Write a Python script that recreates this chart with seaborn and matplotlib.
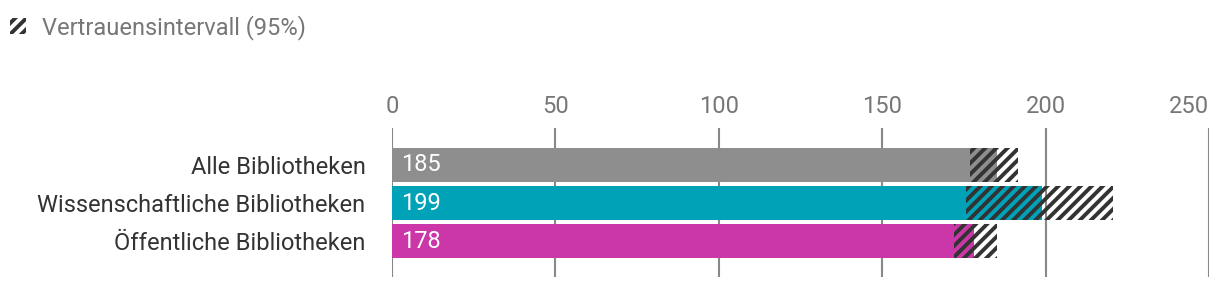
import matplotlib
matplotlib.use("Agg")
import matplotlib.pyplot as plt
from matplotlib.patches import Patch
import seaborn as sns
import numpy as np
import pandas as pd

categories = ["Alle Bibliotheken", "Wissenschaftliche Bibliotheken", "Öffentliche Bibliotheken"]
values = [185, 199, 178]
ci_low = [177, 175.5, 172]
ci_high = [191.5, 220.5, 185]
bar_colors = ["#8e8e8e", "#00a2b8", "#cb37a8"]
x_ticks = [0, 50, 100, 150, 200, 250]
legend_label = "Vertrauensintervall (95%)"

sns.set_theme(style="white")
plt.rcParams["font.family"] = ["Roboto", "DejaVu Sans"]
plt.rcParams["hatch.linewidth"] = 2.8

fig = plt.figure(figsize=(12.2, 2.9), dpi=100)
ax = fig.add_axes([392 / 1220, (290 - 277.3) / 290, 817 / 1220, 149.3 / 290])

df = pd.DataFrame({"cat": categories, "val": values})
sns.barplot(data=df, x="val", y="cat", hue="cat", palette=bar_colors, orient="h",
            width=0.895, legend=False, ax=ax, saturation=1, linewidth=0)

pos = np.arange(len(categories))
lo = np.array(ci_low)
hi = np.array(ci_high)
ax.barh(pos, hi - lo, left=lo, height=0.895, facecolor="none",
        edgecolor="#333333", linewidth=0, hatch="///", zorder=3)

for i, v in enumerate(values):
    ax.annotate(str(v), xy=(0, i), xytext=(6.5, 0), textcoords="offset points",
                ha="left", va="center", color="white", fontsize=17)

ax.set_xlim(0, 250)
ax.set_ylim(2.95, -0.97)
ax.set_xticks(x_ticks)
ax.set_xticklabels([str(t) for t in x_ticks])
ax.xaxis.tick_top()
ax.tick_params(axis="x", length=0, pad=7, labelsize=17, labelcolor="#777777")
ax.tick_params(axis="y", length=0, pad=19, labelsize=17, labelcolor="#333333")
ax.get_xticklabels()[-1].set_horizontalalignment("right")
ax.set_xlabel("")
ax.set_ylabel("")
ax.grid(axis="x", color="#888888", linewidth=1.5)
ax.grid(axis="y", visible=False)
ax.set_axisbelow(True)
for s in ax.spines.values():
    s.set_visible(False)

handle = Patch(facecolor="white", edgecolor="#333333", linewidth=0, hatch="///")
fig.legend(handles=[handle], labels=[legend_label], loc="upper left",
           bbox_to_anchor=(10 / 1220, 1 - 15 / 290), frameon=False,
           borderpad=0, borderaxespad=0, handlelength=0.68, handleheight=0.68,
           handletextpad=0.68, fontsize=17, labelcolor="#777777")

fig.savefig("out.png", dpi=100)
